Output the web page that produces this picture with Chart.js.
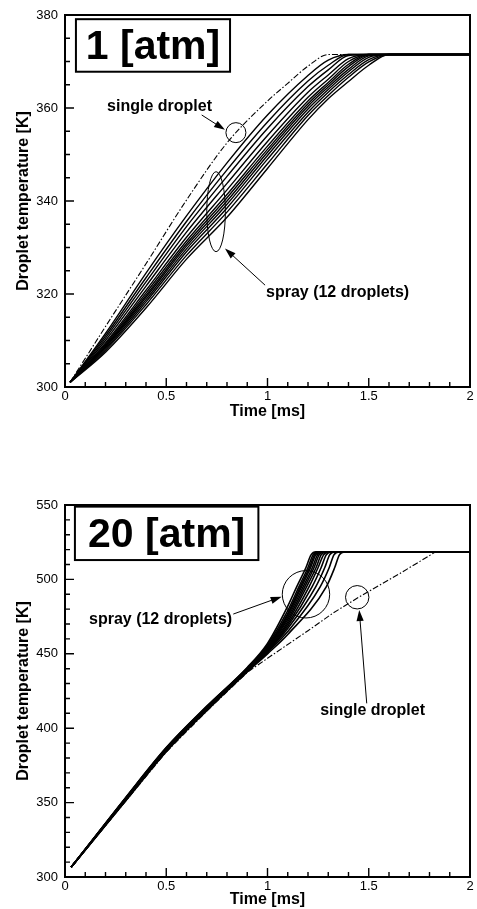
<!DOCTYPE html>
<html><head><meta charset="utf-8">
<script src="https://cdn.jsdelivr.net/npm/chart.js@4/dist/chart.umd.min.js"></script>
<style>
html,body{margin:0;padding:0;background:#fff;width:477px;height:909px;overflow:hidden}
canvas{position:absolute;left:0}
#c1{top:0}
#c2{top:450px}
</style></head><body>
<canvas id="c1" width="477" height="440"></canvas>
<canvas id="c2" width="477" height="459"></canvas>
<script>
// ---------- DATA ----------
const xTickValues = [0, 0.5, 1, 1.5, 2];
const yTicks1atm = [300, 320, 340, 360, 380];
const yTicks20atm = [300, 350, 400, 450, 500, 550];

// 1 atm: 12 spray droplets on a shared time grid [ms] -> temperature [K]
const time1atm = [0.025, 0.2, 0.4, 0.6, 0.8, 1.0, 1.2, 1.3, 1.4, 1.5, 1.6, 2.0];
const spray1atm = [
  [301, 311.5, 324.5, 336.8, 348.2, 358.5, 367.0, 370.3, 371.5, 371.5, 371.5, 371.5],
  [301, 311.0, 323.5, 335.6, 346.7, 357.0, 365.8, 369.2, 371.5, 371.5, 371.5, 371.5],
  [301, 310.5, 322.6, 334.5, 345.3, 355.6, 364.6, 368.2, 371.3, 371.5, 371.5, 371.5],
  [301, 310.0, 321.7, 333.3, 343.8, 354.1, 363.4, 367.1, 370.6, 371.5, 371.5, 371.5],
  [301, 309.5, 320.8, 332.2, 342.4, 352.8, 362.3, 366.2, 370.0, 371.5, 371.5, 371.5],
  [301, 309.2, 320.2, 331.4, 341.4, 351.8, 361.5, 365.5, 369.4, 371.5, 371.5, 371.5],
  [301, 308.9, 319.7, 330.8, 340.7, 351.1, 360.9, 365.0, 368.9, 371.4, 371.5, 371.5],
  [301, 308.7, 319.3, 330.3, 340.0, 350.5, 360.4, 364.5, 368.3, 371.2, 371.5, 371.5],
  [301, 308.5, 318.8, 329.7, 339.3, 349.8, 359.8, 364.0, 367.8, 370.9, 371.5, 371.5],
  [301, 308.2, 318.3, 329.1, 338.5, 349.0, 359.1, 363.4, 367.2, 370.4, 371.5, 371.5],
  [301, 307.9, 317.7, 328.3, 337.6, 348.0, 358.4, 362.7, 366.6, 369.9, 371.5, 371.5],
  [301, 307.5, 317.0, 327.5, 336.5, 347.0, 357.5, 362.0, 365.7, 369.2, 371.5, 371.5]
];
const timeSingle1atm = [0.025, 0.2, 0.4, 0.6, 0.8, 1.0, 1.1, 1.2, 1.3, 2.0];
const single1atm = [301, 313.0, 326.5, 340.2, 352.5, 361.5, 365.3, 369.0, 371.5, 371.5];

// 20 atm: 12 spray droplets, each with its own time points [ms] and temperatures [K]
const spray20atmTime = [
  [0.03, 0.3, 0.5, 0.7, 0.9, 1.0, 1.1, 1.144, 1.19, 1.215, 1.24, 2.0],
  [0.03, 0.3, 0.5, 0.7, 0.9, 1.0, 1.1, 1.155, 1.20, 1.225, 1.25, 2.0],
  [0.03, 0.3, 0.5, 0.7, 0.9, 1.0, 1.1, 1.162, 1.207, 1.232, 1.257, 2.0],
  [0.03, 0.3, 0.5, 0.7, 0.9, 1.0, 1.1, 1.168, 1.213, 1.238, 1.263, 2.0],
  [0.03, 0.3, 0.5, 0.7, 0.9, 1.0, 1.1, 1.176, 1.222, 1.247, 1.272, 2.0],
  [0.03, 0.3, 0.5, 0.7, 0.9, 1.0, 1.1, 1.184, 1.230, 1.255, 1.280, 2.0],
  [0.03, 0.3, 0.5, 0.7, 0.9, 1.0, 1.1, 1.193, 1.240, 1.265, 1.290, 2.0],
  [0.03, 0.3, 0.5, 0.7, 0.9, 1.0, 1.1, 1.205, 1.250, 1.277, 1.302, 2.0],
  [0.03, 0.3, 0.5, 0.7, 0.9, 1.0, 1.1, 1.220, 1.265, 1.290, 1.315, 2.0],
  [0.03, 0.3, 0.5, 0.7, 0.9, 1.0, 1.1, 1.238, 1.283, 1.307, 1.332, 2.0],
  [0.03, 0.3, 0.5, 0.7, 0.9, 1.0, 1.1, 1.260, 1.305, 1.328, 1.353, 2.0],
  [0.03, 0.3, 0.5, 0.7, 0.9, 1.0, 1.1, 1.290, 1.332, 1.355, 1.380, 2.0]
];
const spray20atmTemp = [
  [306.5, 353.5, 387.0, 414.8, 440.8, 457.0, 482.0, 495, 508, 516.5, 518.5, 518.5],
  [306.5, 353.3, 386.8, 414.5, 440.5, 456.0, 479.0, 495, 508, 516.5, 518.5, 518.5],
  [306.5, 353.1, 386.5, 414.2, 440.2, 455.0, 477.0, 495, 508, 516.5, 518.5, 518.5],
  [306.5, 352.9, 386.3, 414.0, 440.0, 454.5, 476.0, 495, 508, 516.5, 518.5, 518.5],
  [306.5, 352.7, 386.0, 413.7, 439.7, 454.0, 474.5, 495, 508, 516.5, 518.5, 518.5],
  [306.5, 352.5, 385.8, 413.5, 439.5, 453.5, 473.0, 495, 508, 516.5, 518.5, 518.5],
  [306.5, 352.3, 385.5, 413.2, 439.2, 453.0, 471.5, 495, 508, 516.5, 518.5, 518.5],
  [306.5, 352.1, 385.3, 413.0, 439.0, 452.5, 470.0, 495, 508, 516.5, 518.5, 518.5],
  [306.5, 351.9, 385.0, 412.7, 438.7, 452.0, 468.5, 495, 508, 516.5, 518.5, 518.5],
  [306.5, 351.7, 384.8, 412.5, 438.5, 451.5, 467.0, 495, 508, 516.5, 518.5, 518.5],
  [306.5, 351.5, 384.5, 412.2, 438.2, 451.0, 465.0, 495, 508, 516.5, 518.5, 518.5],
  [306.5, 351.2, 384.2, 411.8, 437.8, 450.0, 463.0, 495, 508, 516.5, 518.5, 518.5]
];
const timeSingle20atm = [0.03, 0.3, 0.5, 0.7, 0.9, 1.0, 1.2, 1.325, 1.45, 1.654, 1.83, 2.0];
const single20atm = [306.5, 351.0, 384.0, 411.5, 437.5, 447.0, 465.5, 477.5, 488.0, 504.0, 518.5, 518.5];

// ---------- RENDERING ----------
const FONT = "'Liberation Sans', Arial, Helvetica, sans-serif";
Chart.defaults.font.family = FONT;
Chart.defaults.color = '#000';

const toPts = (xs, ys) => xs.map((t, i) => ({x: t, y: ys[i]}));

function drawArrow(ctx, x1, y1, x2, y2) {
  const ang = Math.atan2(y2 - y1, x2 - x1);
  const L = 11, W = 3.6;
  ctx.beginPath();
  ctx.moveTo(x1, y1);
  ctx.lineTo(x2 - Math.cos(ang) * L * 0.8, y2 - Math.sin(ang) * L * 0.8);
  ctx.stroke();
  ctx.beginPath();
  ctx.moveTo(x2, y2);
  ctx.lineTo(x2 - Math.cos(ang) * L - Math.sin(ang) * W, y2 - Math.sin(ang) * L + Math.cos(ang) * W);
  ctx.lineTo(x2 - Math.cos(ang) * L + Math.sin(ang) * W, y2 - Math.sin(ang) * L - Math.cos(ang) * W);
  ctx.closePath();
  ctx.fill();
}

const decor = {
  id: 'decor',
  afterDatasetsDraw(chart, args, o) {
    const {ctx, chartArea: a, scales: {x, y}} = chart;
    const X = v => x.getPixelForValue(v), Y = v => y.getPixelForValue(v);
    ctx.save();
    ctx.strokeStyle = '#000'; ctx.fillStyle = '#000';
    // inward ticks
    ctx.lineWidth = 1.4;
    ctx.beginPath();
    const nx = Math.round((o.xMax - o.xMin) / o.xMinor);
    for (let i = 0; i <= nx; i++) {
      const v = o.xMin + i * o.xMinor;
      const major = i % Math.round(o.xMajor / o.xMinor) === 0;
      const px = X(v);
      ctx.moveTo(px, a.bottom); ctx.lineTo(px, a.bottom - (major ? 9 : 5));
    }
    const ny = Math.round((o.yMax - o.yMin) / o.yMinor);
    for (let i = 0; i <= ny; i++) {
      const v = o.yMin + i * o.yMinor;
      const major = i % Math.round(o.yMajor / o.yMinor) === 0;
      const py = Y(v);
      ctx.moveTo(a.left, py); ctx.lineTo(a.left + (major ? 9 : 5), py);
    }
    ctx.stroke();
    // frame
    ctx.lineWidth = 2;
    ctx.strokeRect(a.left, a.top, a.right - a.left, a.bottom - a.top);
    // circles / ellipses
    ctx.lineWidth = 1;
    (o.circles || []).forEach(c => {
      ctx.beginPath();
      ctx.ellipse(X(c.x), Y(c.y), c.rx, c.ry, 0, 0, Math.PI * 2);
      ctx.stroke();
    });
    // arrows
    (o.arrows || []).forEach(r => drawArrow(ctx, X(r.x1), Y(r.y1), X(r.x2), Y(r.y2)));
    // labels
    ctx.font = 'bold 16px ' + FONT;
    ctx.textAlign = 'center'; ctx.textBaseline = 'middle';
    (o.texts || []).forEach(t => ctx.fillText(t.text, X(t.x), Y(t.y)));
    // title box
    (o.boxes || []).forEach(b => {
      const x1 = X(b.x1), x2 = X(b.x2), y1 = Y(b.y1), y2 = Y(b.y2);
      ctx.fillStyle = '#fff';
      ctx.fillRect(x1, y1, x2 - x1, y2 - y1);
      ctx.lineWidth = 2;
      ctx.strokeRect(x1, y1, x2 - x1, y2 - y1);
      ctx.fillStyle = '#000';
      ctx.font = 'bold 41px ' + FONT;
      ctx.fillText(b.text, (x1 + x2) / 2, (y1 + y2) / 2 + 2);
    });
    ctx.restore();
  }
};

function makeChart(id, cfg) {
  const datasets = [];
  datasets.push({
    data: cfg.single,
    borderColor: '#000', borderWidth: 1.1,
    borderDash: [6, 2, 1.5, 2],
    cubicInterpolationMode: cfg.singleCubic ? 'monotone' : 'default',
    tension: 0, pointRadius: 0
  });
  cfg.spray.forEach(s => datasets.push({
    data: s, borderColor: '#000', borderWidth: cfg.lw,
    cubicInterpolationMode: 'monotone', pointRadius: 0
  }));
  return new Chart(document.getElementById(id), {
    type: 'line',
    data: {datasets},
    options: {
      responsive: false, animation: false, events: [],
      layout: {padding: {top: cfg.padTop, right: 7, left: 0, bottom: 0}},
      plugins: {legend: {display: false}, tooltip: {enabled: false}, decor: cfg.decor},
      scales: {
        x: {
          type: 'linear', min: 0, max: 2,
          afterBuildTicks: s => { s.ticks = xTickValues.map(v => ({value: v})); },
          afterFit: s => { s.height = cfg.xH; },
          grid: {display: false, drawTicks: false},
          border: {display: false},
          ticks: {padding: 1.5, font: {size: 13}, color: '#000', maxRotation: 0, callback: v => String(v)},
          title: {display: true, text: 'Time [ms]', font: {size: 16, weight: 'bold'}, color: '#000',
                  padding: {top: 0, bottom: cfg.xTitlePad}}
        },
        y: {
          type: 'linear', min: cfg.yMin, max: cfg.yMax,
          afterBuildTicks: s => { s.ticks = cfg.yTicks.map(v => ({value: v})); },
          afterFit: s => { s.width = 65; },
          grid: {display: false, drawTicks: false},
          border: {display: false},
          ticks: {padding: 7, font: {size: 13}, color: '#000', callback: v => String(v)},
          title: {display: true, text: 'Droplet temperature [K]', font: {size: 16, weight: 'bold'}, color: '#000',
                  padding: {top: 14, bottom: 0}}
        }
      }
    },
    plugins: [decor]
  });
}

makeChart('c1', {
  single: toPts(timeSingle1atm, single1atm), singleCubic: true,
  spray: spray1atm.map(s => toPts(time1atm, s)), lw: 1.4,
  padTop: 15, xH: 53, xTitlePad: 18.5,
  yMin: 300, yMax: 380, yTicks: yTicks1atm,
  decor: {
    xMin: 0, xMax: 2, xMinor: 0.1, xMajor: 0.5,
    yMin: 300, yMax: 380, yMinor: 5, yMajor: 20,
    boxes: [{x1: 0.054, y1: 379.1, x2: 0.815, y2: 367.8, text: '1 [atm]'}],
    texts: [{x: 0.467, y: 360.2, text: 'single droplet'}, {x: 1.346, y: 320.2, text: 'spray (12 droplets)'}],
    circles: [{x: 0.844, y: 354.7, rx: 10, ry: 10}, {x: 0.746, y: 337.7, rx: 9.3, ry: 40}],
    arrows: [{x1: 0.675, y1: 358.5, x2: 0.79, y2: 355.3}, {x1: 0.988, y1: 321.9, x2: 0.79, y2: 329.8}]
  }
});

makeChart('c2', {
  single: toPts(timeSingle20atm, single20atm), singleCubic: false,
  spray: spray20atmTime.map((ts, i) => toPts(ts, spray20atmTemp[i])), lw: 1.6,
  padTop: 55, xH: 32, xTitlePad: 0,
  yMin: 300, yMax: 550, yTicks: yTicks20atm,
  decor: {
    xMin: 0, xMax: 2, xMinor: 0.1, xMajor: 0.5,
    yMin: 300, yMax: 550, yMinor: 10, yMajor: 50,
    boxes: [{x1: 0.049, y1: 548.9, x2: 0.955, y2: 513, text: '20 [atm]'}],
    texts: [{x: 0.472, y: 473.2, text: 'spray (12 droplets)'}, {x: 1.519, y: 411.8, text: 'single droplet'}],
    circles: [{x: 1.19, y: 490, rx: 23.7, ry: 23.7}, {x: 1.443, y: 488, rx: 11.7, ry: 11.7}],
    arrows: [{x1: 0.831, y1: 476.7, x2: 1.07, y2: 488.4}, {x1: 1.49, y1: 416.7, x2: 1.453, y2: 479.4}]
  }
});
</script>
</body></html>
